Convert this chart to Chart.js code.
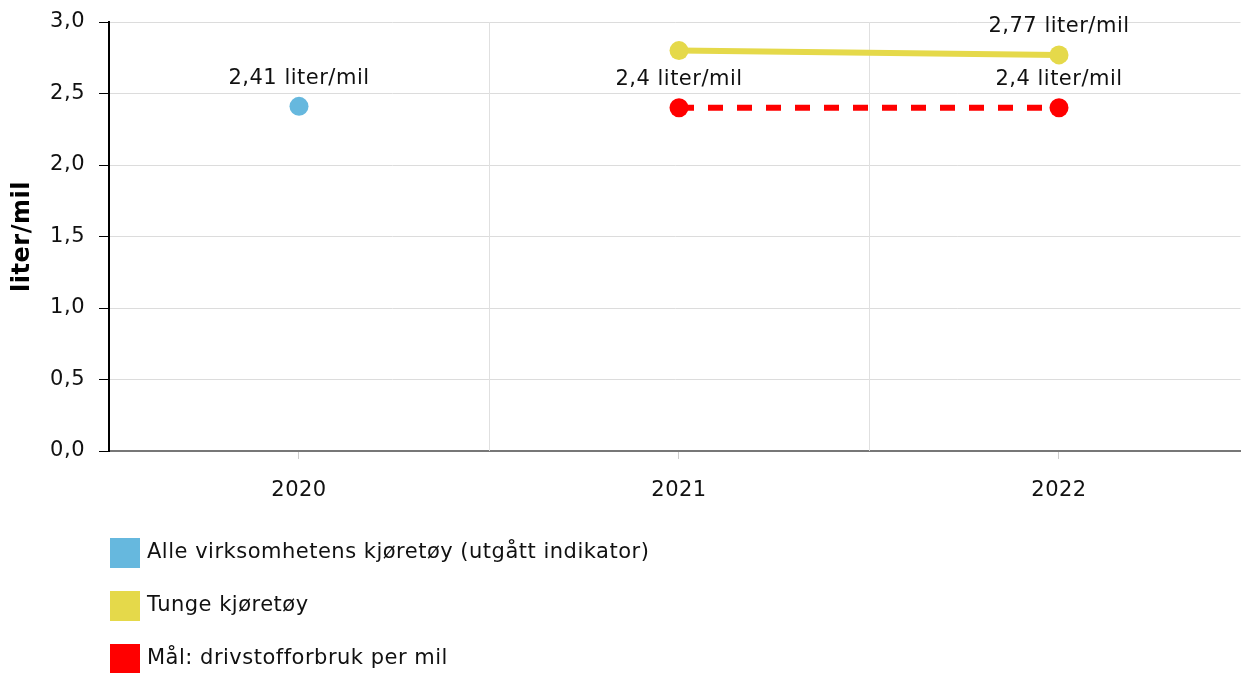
<!DOCTYPE html>
<html>
<head>
<meta charset="utf-8">
<script src="https://cdn.jsdelivr.net/npm/chart.js@4"></script>
<style>
  html, body { margin: 0; padding: 0; background: #fff; overflow: hidden; }
  #wrap { position: relative; width: 1250px; height: 673px; }
</style>
</head>
<body>
<div id="wrap"><canvas id="chartDrivstoff" width="1250" height="673"></canvas></div>
<script>
// Data lest av figuren
const aar = ['2020', '2021', '2022'];
const alleKjoretoy = [2.41, null, null];
const tungeKjoretoy = [null, 2.80, 2.77];
const maalForbruk = [null, 2.4, 2.4];
// hvilke punkter som har etikett
const alleEtiketter = [true, false, false];
const tungeEtiketter = [false, false, true];
const maalEtiketter = [false, true, true];
const yTicks = [0, 0.5, 1, 1.5, 2, 2.5, 3];

const FONT = 'DejaVu Sans, Verdana, sans-serif';
const PX_PER_AAR = 380;
const fmt = (v, d) => v.toFixed(d).replace('.', ',');
const fmtEtikett = v => (Math.round(v * 100) / 100).toString().replace('.', ',') + ' liter/mil';

// Skalaene skal ikke legge til egen luft rundt plottet
const nullPadding = s => {
    s.paddingTop = 0;
    s.paddingBottom = 0;
    s.paddingLeft = 0;
    s.paddingRight = 0;
};

// Tegner loddrette rutenettlinjer, verdietiketter og legende
const ekstraPlugin = {
    id: 'ekstra',
    beforeDraw(chart) {
        chart.ctx.letterSpacing = '0.5px';
    },
    beforeDatasetsDraw(chart) {
        const ctx = chart.ctx;
        const xs = chart.scales.x;
        const area = chart.chartArea;
        ctx.save();
        ctx.strokeStyle = '#e0e0e0';
        ctx.lineWidth = 1;
        aar.forEach(a => {
            const x = Math.round(xs.getPixelForValue(Number(a) + 0.5)) + 0.5;
            ctx.beginPath();
            ctx.moveTo(x, area.top);
            ctx.lineTo(x, area.bottom);
            ctx.stroke();
        });
        ctx.restore();
    },
    afterDatasetsDraw(chart) {
        const ctx = chart.ctx;
        ctx.save();
        ctx.font = '21px ' + FONT;
        ctx.fillStyle = '#111';
        ctx.textAlign = 'center';
        ctx.textBaseline = 'middle';
        chart.data.datasets.forEach((ds, i) => {
            const meta = chart.getDatasetMeta(i);
            meta.data.forEach((pt, j) => {
                if (ds.data[j] == null || !ds.etiketter[j]) return;
                ctx.fillText(fmtEtikett(ds.data[j]), pt.x, pt.y - 28);
            });
        });
        ctx.restore();
    },
    afterDraw(chart) {
        const ctx = chart.ctx;
        ctx.save();
        ctx.font = '21px ' + FONT;
        ctx.textBaseline = 'middle';
        ctx.textAlign = 'left';
        chart.data.datasets.forEach((ds, i) => {
            const cy = 553 + i * 53;
            ctx.fillStyle = ds.legendFarge;
            ctx.fillRect(110, cy - 15, 30, 30);
            ctx.fillStyle = '#111';
            ctx.fillText(ds.label, 147, cy);
        });
        ctx.restore();
    }
};

const ctxDriv = document.getElementById('chartDrivstoff').getContext('2d');

const chart = new Chart(ctxDriv, {
    type: 'line',
    data: {
        labels: aar,
        datasets: [
            {
                label: 'Alle virksomhetens kjøretøy (utgått indikator)',
                data: alleKjoretoy,
                etiketter: alleEtiketter,
                legendFarge: '#66b8de',
                borderColor: '#66b8de',
                backgroundColor: '#66b8de',
                pointRadius: 9.5,
                pointBorderWidth: 0,
                borderWidth: 5,
                showLine: false
            },
            {
                label: 'Tunge kjøretøy',
                data: tungeKjoretoy,
                etiketter: tungeEtiketter,
                legendFarge: '#e5d94a',
                borderColor: '#e5d94a',
                backgroundColor: '#e5d94a',
                pointRadius: 9.5,
                pointBorderWidth: 0,
                borderWidth: 6,
                tension: 0
            },
            {
                label: 'Mål: drivstofforbruk per mil',
                data: maalForbruk,
                etiketter: maalEtiketter,
                legendFarge: '#ff0000',
                borderColor: '#ff0000',
                backgroundColor: '#ff0000',
                pointRadius: 9.5,
                pointBorderWidth: 0,
                borderWidth: 6,
                borderDash: [15, 14],
                tension: 0
            }
        ]
    },
    options: {
        responsive: false,
        animation: false,
        layout: { padding: { top: 22, right: 1, bottom: 162, left: 0 } },
        plugins: {
            legend: { display: false },
            tooltip: { enabled: false }
        },
        scales: {
            x: {
                type: 'linear',
                bounds: 'data',
                afterBuildTicks: s => {
                    // halvt år luft til venstre, plottet fortsetter forbi høyre kant
                    s.min = Number(aar[0]) - 0.5;
                    s.max = s.min + s.width / PX_PER_AAR;
                    s.ticks = aar.map(a => ({ value: Number(a) }));
                },
                afterFit: s => { s.height = 60; nullPadding(s); },
                grid: { drawOnChartArea: false, tickColor: '#ccc', tickLength: 8 },
                border: { color: '#777', width: 2 },
                ticks: {
                    padding: 19,
                    color: '#111',
                    font: { family: FONT, size: 21 },
                    callback: v => String(v)
                }
            },
            y: {
                min: 0,
                max: 3,
                afterFit: s => { s.width = 109; nullPadding(s); },
                afterBuildTicks: s => { s.ticks = yTicks.map(v => ({ value: v })); },
                grid: { color: '#dcdcdc', tickColor: '#000', tickLength: 10 },
                border: { color: '#000', width: 2 },
                ticks: {
                    padding: 14,
                    color: '#111',
                    font: { family: FONT, size: 21 },
                    callback: v => fmt(v, 1)
                },
                title: {
                    display: true,
                    text: 'liter/mil',
                    color: '#000',
                    padding: { top: 8, bottom: 4 },
                    font: { family: FONT, size: 24, weight: 'bold' }
                }
            }
        }
    },
    plugins: [ekstraPlugin]
});
</script>
</body>
</html>
